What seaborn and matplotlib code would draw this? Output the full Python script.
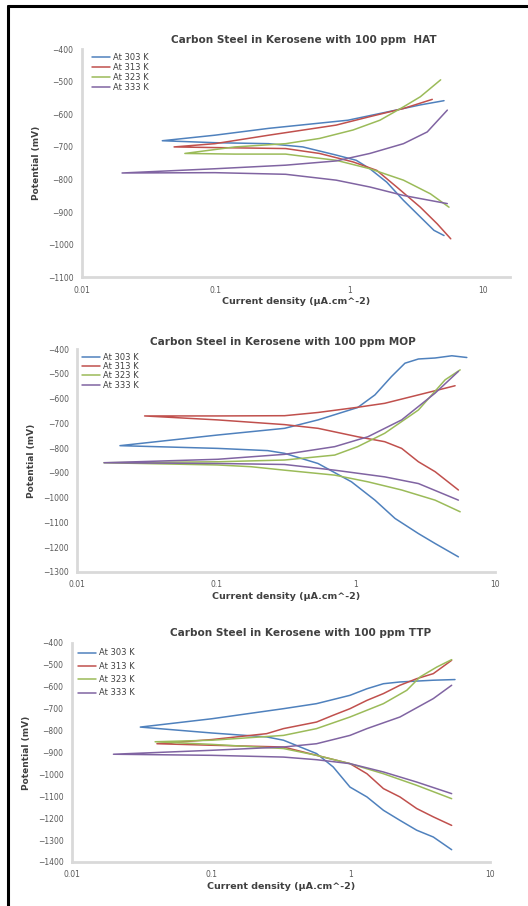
import seaborn as sns
import matplotlib.pyplot as plt
import pandas as pd
from matplotlib.lines import Line2D

# series names and Excel-like colours
temps = ['At 303 K', 'At 313 K', 'At 323 K', 'At 333 K']
colors = ['#4F81BD', '#C0504D', '#9BBB59', '#8064A2']

# --- HAT: current density (uA/cm2) and potential (mV), cathodic end -> Ecorr -> anodic end
hat_303_i = [5.13, 4.31, 3.41, 2.55, 1.91, 1.43, 1.13, 0.80, 0.45, 0.25, 0.099, 0.040, 0.099, 0.25, 0.98, 1.91, 3.41, 5.13]
hat_303_e = [-972, -956, -915, -864, -808, -767, -741, -725, -700, -690, -687, -681, -664, -643, -618, -593, -571, -558]
hat_313_i = [5.76, 4.56, 3.41, 2.27, 1.61, 1.07, 0.60, 0.335, 0.099, 0.049, 0.099, 0.25, 0.80, 1.43, 2.55, 4.19]
hat_313_e = [-982, -936, -885, -823, -772, -746, -720, -705, -702, -700, -690, -664, -633, -607, -582, -554]
hat_323_i = [5.59, 4.06, 2.55, 1.43, 0.80, 0.50, 0.335, 0.14, 0.059, 0.14, 0.335, 0.60, 1.07, 1.70, 2.55, 3.41, 4.84]
hat_323_e = [-885, -844, -802, -767, -741, -731, -722, -722, -720, -700, -690, -674, -648, -618, -577, -546, -494]
hat_333_i = [5.43, 2.55, 1.43, 0.80, 0.335, 0.099, 0.020, 0.099, 0.335, 0.80, 1.43, 2.55, 3.84, 5.43]
hat_333_e = [-874, -849, -823, -802, -784, -779, -780, -767, -756, -743, -720, -690, -654, -587]

# --- MOP
mop_303_i = [5.44, 3.70, 2.81, 1.91, 1.37, 0.93, 0.535, 0.308, 0.233, 0.102, 0.0203, 0.102, 0.308, 0.535, 1.03, 1.37, 1.80, 2.25, 2.81, 3.70, 4.88, 6.25]
mop_303_e = [-1239, -1185, -1145, -1084, -1010, -936, -862, -821, -810, -801, -790, -747, -720, -686, -636, -585, -511, -457, -440, -436, -427, -434]
mop_313_i = [5.44, 3.70, 2.81, 2.13, 1.61, 1.03, 0.535, 0.308, 0.102, 0.0305, 0.102, 0.308, 0.535, 1.03, 1.61, 2.81, 5.15]
mop_313_e = [-969, -895, -855, -801, -774, -754, -720, -705, -686, -670, -670, -669, -656, -635, -619, -585, -548]
mop_323_i = [5.60, 3.70, 2.13, 1.22, 0.705, 0.308, 0.177, 0.102, 0.0156, 0.102, 0.308, 0.705, 1.03, 1.61, 2.81, 4.37, 5.60]
mop_323_e = [-1057, -1010, -969, -936, -909, -889, -875, -868, -859, -855, -848, -828, -794, -740, -646, -524, -484]
mop_333_i = [5.44, 2.81, 1.61, 0.705, 0.308, 0.102, 0.0156, 0.102, 0.308, 0.705, 1.22, 2.13, 3.70, 5.44]
mop_333_e = [-1010, -943, -916, -889, -866, -862, -859, -845, -825, -794, -754, -686, -578, -490]

# --- TTP
ttp_303_i = [5.31, 3.92, 2.98, 2.26, 1.72, 1.31, 0.99, 0.75, 0.57, 0.33, 0.25, 0.101, 0.031, 0.101, 0.33, 0.57, 0.99, 1.31, 1.72, 2.26, 3.92, 5.61]
ttp_303_e = [-1344, -1286, -1255, -1210, -1164, -1103, -1058, -966, -905, -844, -829, -811, -784, -746, -700, -677, -639, -609, -586, -578, -570, -567]
ttp_313_i = [5.31, 3.92, 2.98, 2.26, 1.72, 1.31, 0.99, 0.57, 0.33, 0.101, 0.0408, 0.101, 0.25, 0.33, 0.57, 0.75, 0.99, 1.31, 1.72, 2.26, 2.98, 3.92, 5.31]
ttp_313_e = [-1233, -1194, -1156, -1103, -1065, -997, -951, -913, -875, -867, -860, -841, -814, -791, -761, -730, -700, -662, -631, -593, -563, -540, -479]
ttp_323_i = [5.31, 2.98, 1.72, 0.99, 0.57, 0.33, 0.101, 0.0396, 0.101, 0.33, 0.57, 0.99, 1.72, 2.53, 3.15, 4.15, 5.31]
ttp_323_e = [-1111, -1050, -997, -951, -913, -882, -863, -851, -844, -822, -791, -738, -677, -616, -555, -510, -476]
ttp_333_i = [5.31, 2.98, 1.72, 0.99, 0.57, 0.33, 0.101, 0.0199, 0.101, 0.33, 0.57, 0.99, 1.31, 2.26, 3.92, 5.31]
ttp_333_e = [-1088, -1035, -989, -951, -933, -921, -913, -908, -890, -875, -860, -822, -791, -738, -654, -593]


def make_frame(pairs):
    rows = []
    for name, (cur, pot) in zip(temps, pairs):
        for k, (c, p) in enumerate(zip(cur, pot)):
            rows.append({'temp': name, 'step': k, 'current': c, 'potential': p})
    return pd.DataFrame(rows)


# title, data, axes rect, x max, y min, title x, title gap (px), legend x, legend y, legend spacing
panels = [
    ('Carbon Steel in Kerosene with 100 ppm  HAT',
     make_frame([(hat_303_i, hat_303_e), (hat_313_i, hat_313_e), (hat_323_i, hat_323_e), (hat_333_i, hat_333_e)]),
     [0.155, 0.694, 0.811, 0.2517], 16, -1100, 0.575, 9, 0.014, 1.003, 0.12),
    ('Carbon Steel in Kerosene with 100 ppm MOP',
     make_frame([(mop_303_i, mop_303_e), (mop_313_i, mop_313_e), (mop_323_i, mop_323_e), (mop_333_i, mop_333_e)]),
     [0.146, 0.3687, 0.792, 0.246], 10, -1300, 0.535, 7, 0.002, 1.003, 0.04),
    ('Carbon Steel in Kerosene with 100 ppm TTP',
     make_frame([(ttp_303_i, ttp_303_e), (ttp_313_i, ttp_313_e), (ttp_323_i, ttp_323_e), (ttp_333_i, ttp_333_e)]),
     [0.136, 0.0486, 0.792, 0.2417], 10, -1400, 0.57, 10, 0.005, 0.994, 0.52),
]

sns.set_style('white')
plt.rcParams['font.family'] = ['DejaVu Sans']

fig = plt.figure(figsize=(5.28, 9.06), dpi=100)
txt = '#404040'

for title, df, rect, xmax, ymin, tx, tgap, lx, ly, lsp in panels:
    ax = fig.add_axes(rect)
    sns.lineplot(data=df, x='current', y='potential', hue='temp', palette=colors,
                 estimator=None, sort=False, units='temp', linewidth=1.1, ax=ax)
    ax.set_xscale('log')
    ax.set_xlim(0.01, xmax)
    ax.set_ylim(ymin, -400)
    ax.set_xticks([0.01, 0.1, 1, 10])
    ax.set_xticklabels(['0.01', '0.1', '1', '10'])
    ax.xaxis.set_minor_locator(plt.NullLocator())
    ax.set_yticks(range(ymin, -399, 100))
    ax.tick_params(length=0, labelsize=5.5, colors='#595959', pad=6)
    sns.despine(ax=ax)
    for s in ['left', 'bottom']:
        ax.spines[s].set_color('#D9D9D9')
        ax.spines[s].set_linewidth(2)
    ax.set_xlabel('Current density (µA.cm^-2)', fontsize=6.8, fontweight='bold', color=txt, labelpad=2)
    ax.set_ylabel('Potential (mV)', fontsize=6.5, fontweight='bold', color=txt, labelpad=5)
    fig.text(tx, rect[1] + rect[3] + tgap / 906, title, ha='center', va='center',
             fontsize=7.6, fontweight='bold', color=txt)
    sns.move_legend(ax, 'upper left', bbox_to_anchor=(lx, ly), frameon=False,
                    fontsize=6, title=None, borderpad=0, handlelength=2.2,
                    handletextpad=0.3, labelspacing=lsp)
    for t in ax.get_legend().get_texts():
        t.set_color(txt)

# page frame (top and left edges)
fig.add_artist(Line2D([8 / 528, 1.0], [1 - 6 / 906, 1 - 6 / 906], color='black', lw=2.2))
fig.add_artist(Line2D([8 / 528, 8 / 528], [0, 1 - 6 / 906], color='black', lw=2.2))

fig.savefig('out.png', dpi=100)
